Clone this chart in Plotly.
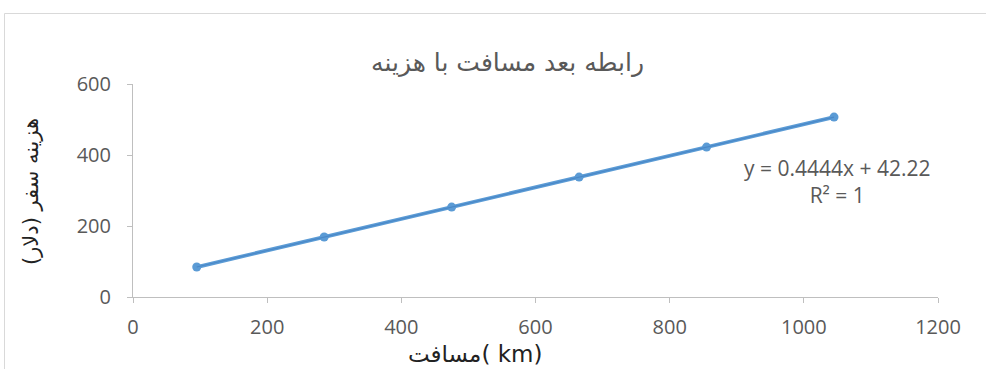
import plotly.graph_objects as go

# Travel distance (km) and travel cost (dollars)
distance_km = [95, 285, 475, 665, 855, 1045]
cost_usd = [84.4, 168.9, 253.3, 337.8, 422.2, 506.7]

# Linear fit reported on the chart
fit_slope = 0.4444
fit_intercept = 42.22
fit_r2 = 1

x_ticks = [0, 200, 400, 600, 800, 1000, 1200]
y_ticks = [0, 200, 400, 600]

title_text = "رابطه بعد مسافت با هزینه"
x_title = "مسافت( km)"
y_title = "هزینه سفر (دلار)"

W, H = 986, 369
ML, MR, MT, MB = 133, 48, 84, 72
PW, PH = W - ML - MR, H - MT - MB

def px_to_paper_x(px):
    return (px - ML) / PW

def px_to_paper_y(py):
    return (H - MB - py) / PH

line_blue = "#5B9BD5"
text_grey = "#595959"
axis_grey = "#BFBFBF"
tick_font = dict(family="'Open Sans', Lato, sans-serif", size=20, color=text_grey)

fig = go.Figure()

fig.add_trace(go.Scatter(
    x=distance_km, y=cost_usd, mode="lines+markers",
    line=dict(color=line_blue, width=3.8),
    marker=dict(color=line_blue, size=9),
    showlegend=False, hoverinfo="skip",
))

# Trendline drawn from the reported fit
fit_x = [distance_km[0], distance_km[-1]]
fit_y = [fit_slope * v + fit_intercept for v in fit_x]
fig.add_trace(go.Scatter(
    x=fit_x, y=fit_y, mode="lines",
    line=dict(color="#4A88C8", width=1.2),
    showlegend=False, hoverinfo="skip",
))

fig.update_xaxes(
    range=[0, 1200], tickvals=x_ticks, ticktext=[str(v) for v in x_ticks],
    showgrid=False, zeroline=False, showline=True, linecolor=axis_grey, linewidth=1,
    ticks="outside", ticklen=5, tickcolor=axis_grey, tickfont=tick_font,
    ticklabelstandoff=7,
)
fig.update_yaxes(
    range=[0, 600], tickvals=y_ticks, ticktext=[str(v) for v in y_ticks],
    showgrid=False, zeroline=False, showline=True, linecolor=axis_grey, linewidth=1,
    ticks="outside", ticklen=5, tickcolor=axis_grey, tickfont=tick_font,
    ticklabelstandoff=12,
)

annotations = [
    dict(text=title_text, x=px_to_paper_x(507), y=px_to_paper_y(63),
         xref="paper", yref="paper", showarrow=False, xanchor="center", yanchor="middle",
         font=dict(family="DejaVu Sans", size=25, color=text_grey)),
    dict(text=x_title, x=px_to_paper_x(475), y=px_to_paper_y(354),
         xref="paper", yref="paper", showarrow=False, xanchor="center", yanchor="middle",
         font=dict(family="DejaVu Sans, 'Open Sans'", size=23, color="#222222")),
    dict(text=y_title, x=px_to_paper_x(31), y=px_to_paper_y(192), textangle=-90,
         xref="paper", yref="paper", showarrow=False, xanchor="center", yanchor="middle",
         font=dict(family="DejaVu Sans", size=21, color="#222222")),
    dict(text=f"y = {fit_slope}x + {fit_intercept}<br>R² = {fit_r2}",
         x=px_to_paper_x(837), y=px_to_paper_y(181),
         xref="paper", yref="paper", showarrow=False, xanchor="center", yanchor="middle",
         align="center",
         font=dict(family="'Open Sans', Lato, sans-serif", size=21, color=text_grey)),
]

# Outer chart frame
shapes = [
    dict(type="rect", xref="paper", yref="paper",
         x0=px_to_paper_x(4.5), x1=px_to_paper_x(W + 20),
         y0=px_to_paper_y(H + 20), y1=px_to_paper_y(13.5),
         line=dict(color="#D9D9D9", width=1), fillcolor="rgba(0,0,0,0)", layer="below"),
]

fig.update_layout(
    width=W, height=H,
    margin=dict(l=ML, r=MR, t=MT, b=MB),
    paper_bgcolor="white", plot_bgcolor="white",
    annotations=annotations, shapes=shapes,
)

fig.write_html("out.html", config={"displayModeBar": False})
